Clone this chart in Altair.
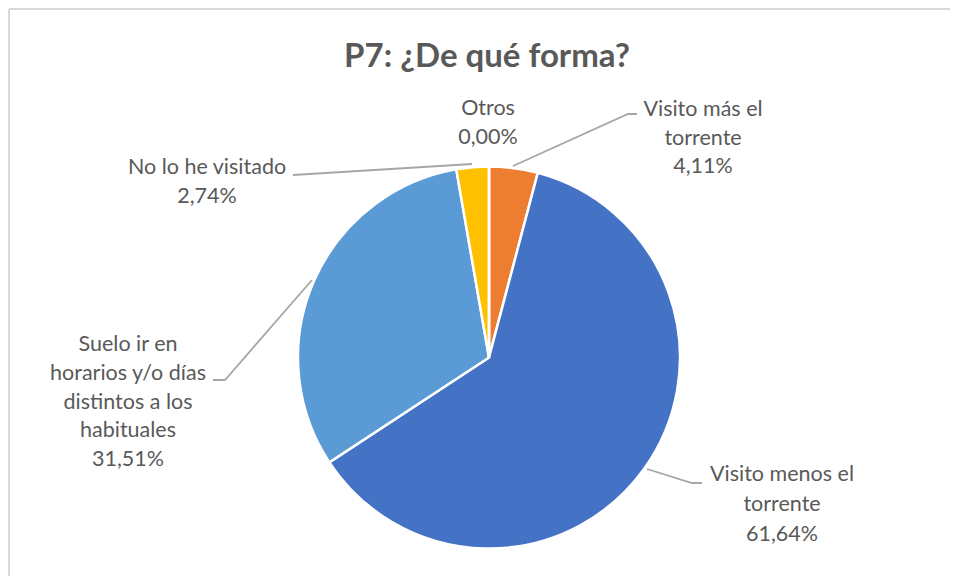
import altair as alt
import pandas as pd

# ---------------- data ----------------
categories = [
    "Visito más el torrente",
    "Visito menos el torrente",
    "Suelo ir en horarios y/o días distintos a los habituales",
    "No lo he visitado",
    "Otros",
]
values = [4.11, 61.64, 31.51, 2.74, 0.00]
label_lines = [
    ["Visito más el", "torrente"],
    ["Visito menos el", "torrente"],
    ["Suelo ir en", "horarios y/o días", "distintos a los", "habituales"],
    ["No lo he visitado"],
    ["Otros"],
]
title_text = "P7: ¿De qué forma?"

# ---------------- style / layout ----------------
colors = ["#ED7D31", "#4472C4", "#5B9BD5", "#FFC000", "#A5A5A5"]
W, H, M = 942, 568, 8
CX, CY, R = 489, 357.5, 191
FONT = "Lato"
# label anchors in page pixels: centre x, first line y, line step
label_anchor = [
    (703, 110, 28.7),
    (782, 475, 29.8),
    (128, 345, 28.8),
    (207, 168, 29.0),
    (488, 109, 29.0),
]
leaders = [
    [(513, 166), (628, 114), (637, 114)],
    [(647, 469), (692, 483), (702, 483)],
    [(312, 280), (225, 380), (213, 380)],
    [(472, 164), (293, 175)],
    [],
]

def pct(v):
    return f"{v:.2f}".replace(".", ",") + "%"

pie_df = pd.DataFrame({"category": categories, "value": values, "idx": range(len(values))})

txt_rows = []
for i, (lines, v) in enumerate(zip(label_lines, values)):
    x0, y0, step = label_anchor[i]
    for j, t in enumerate(lines + [pct(v)]):
        txt_rows.append({"x": x0, "y": y0 + j * step, "t": t})
txt_df = pd.DataFrame(txt_rows)

lead_rows = []
for i, pts in enumerate(leaders):
    for j, (x, y) in enumerate(pts):
        lead_rows.append({"x": x, "y": y, "g": i, "s": j})
lead_df = pd.DataFrame(lead_rows)

xs = alt.Scale(domain=[M, M + W], range=[0, W])
ys = alt.Scale(domain=[M, M + H], range=[0, H])

pie = alt.Chart(pie_df).mark_arc(
    radius=R, stroke="white", strokeWidth=2.5
).encode(
    theta=alt.Theta("value:Q", stack=True),
    color=alt.Color("category:N", scale=alt.Scale(domain=categories, range=colors), legend=None),
    order=alt.Order("idx:Q"),
    x=alt.value(CX - M),
    y=alt.value(CY - M),
)

leader = alt.Chart(lead_df).mark_line(color="#A6A6A6", strokeWidth=1.8).encode(
    x=alt.X("x:Q", scale=xs, axis=None),
    y=alt.Y("y:Q", scale=ys, axis=None),
    detail="g:N",
    order="s:Q",
)

labels = alt.Chart(txt_df).mark_text(
    font=FONT, fontSize=21.5, color="#595959", align="center", baseline="middle"
).encode(
    x=alt.X("x:Q", scale=xs, axis=None),
    y=alt.Y("y:Q", scale=ys, axis=None),
    text="t:N",
)

title = alt.Chart(pd.DataFrame({"t": [title_text]})).mark_text(
    font=FONT, fontSize=33, fontWeight="bold", color="#595959", align="center", baseline="middle"
).encode(
    x=alt.value(487 - M),
    y=alt.value(57 - M),
    text="t:N",
)

border = alt.Chart(pd.DataFrame({"a": [0]})).mark_rule(color="#D9D9D9", strokeWidth=2).encode(
    x=alt.value(1), x2=alt.value(W), y=alt.value(1)
) + alt.Chart(pd.DataFrame({"a": [0]})).mark_rule(color="#D9D9D9", strokeWidth=2).encode(
    x=alt.value(1), y=alt.value(1), y2=alt.value(H)
)

chart = alt.layer(border, pie, leader, labels, title).properties(
    width=W, height=H, padding=0, autosize=alt.AutoSizeParams(type="none"), background="white"
).configure_view(stroke="transparent", strokeWidth=0, strokeOpacity=0)

chart.save("out.html", embed_options={"renderer": "svg", "actions": False})
